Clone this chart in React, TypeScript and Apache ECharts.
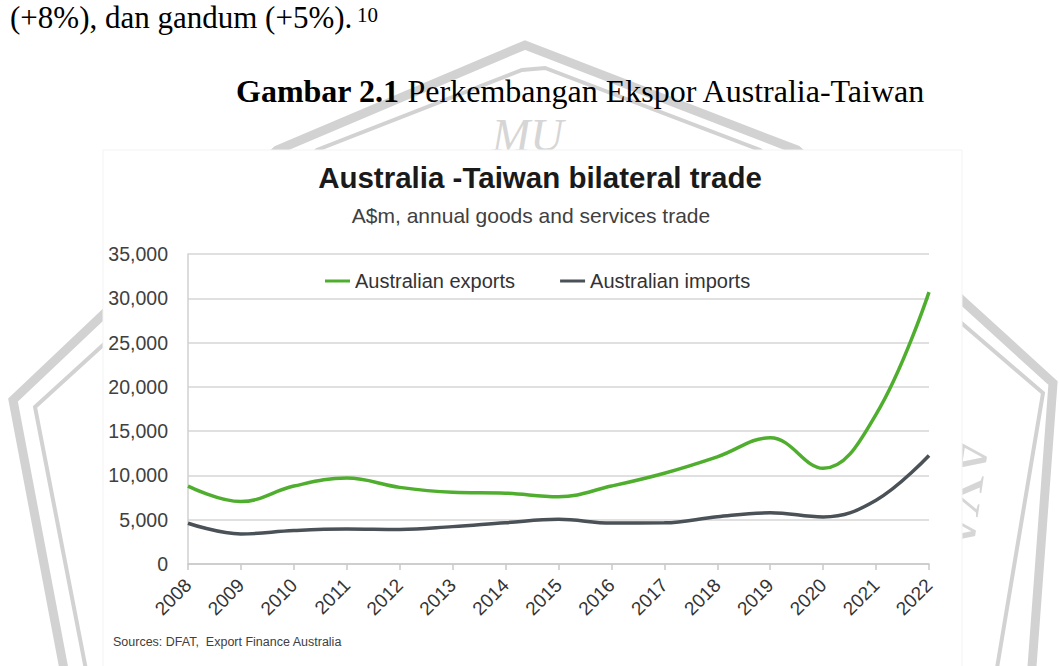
import React, { useEffect, useRef } from "react";
import * as echarts from "echarts";

const years = ["2008","2009","2010","2011","2012","2013","2014","2015","2016","2017","2018","2019","2020","2021","2022"];
const exportsData = [8800, 7050, 8800, 9700, 8650, 8100, 8000, 7600, 8800, 10250, 12100, 14250, 10800, 16900, 30700];
const importsData = [4600, 3400, 3780, 3950, 3900, 4220, 4660, 5040, 4620, 4650, 5340, 5780, 5320, 7200, 12250];
const yTicks = [0, 5000, 10000, 15000, 20000, 25000, 30000, 35000];

const docLine = "(+8%), dan gandum (+5%).";
const footnote = "10";
const figCaptionBold = "Gambar 2.1";
const figCaption = " Perkembangan Ekspor Australia-Taiwan";
const chartTitle = "Australia -Taiwan bilateral trade";
const chartSubtitle = "A$m, annual goods and services trade";
const sourceText = "Sources: DFAT,  Export Finance Australia";

const WM = "#d2d2d2";

export default function App() {
  const ref = useRef<HTMLDivElement>(null);
  useEffect(() => {
    if (!ref.current) return;
    const chart = echarts.init(ref.current, undefined, { renderer: "svg" });
    const fmt = (v: number) => v.toLocaleString("en-US");
    chart.setOption({
      animation: false,
      backgroundColor: "#ffffff",
      graphic: [
        // watermark (behind the chart picture)
        { type: "polyline", z: -30, shape: { points: [[66, 680], [13, 400], [277, 150], [525, 45], [797, 150], [1053, 383], [1031, 680]] }, style: { fill: null, stroke: WM, lineWidth: 9 } },
        { type: "polyline", z: -30, shape: { points: [[88, 680], [35, 407], [317, 150], [522, 70], [545, 68], [760, 150], [1043, 393], [995, 680]] }, style: { fill: null, stroke: WM, lineWidth: 4 } },
        { type: "text", z: -30, x: 492, y: 112, style: { text: "MU", font: "italic 46px 'Liberation Serif'", fill: "#d6d6d6" } },
        { type: "text", z: -30, x: 1000, y: 440, rotation: -Math.PI / 2 - 0.15, style: { text: "AYA", font: "60px 'Liberation Serif'", fill: "#d6d6d6" } },
        // chart picture
        { type: "rect", z: -20, shape: { x: 103, y: 150, width: 859, height: 520 }, style: { fill: "#ffffff", stroke: "#f3f3f3", lineWidth: 1 } },
        // document text
        { type: "text", z: 5, x: 10, y: 33, style: { text: docLine, font: "31px 'Liberation Serif'", fill: "#000", textVerticalAlign: "bottom" } },
        { type: "text", z: 5, x: 357, y: 4, style: { text: footnote, font: "21px 'Liberation Serif'", fill: "#000" } },
        {
          type: "text", z: 5, x: 236, y: 107,
          style: {
            text: "{b|" + figCaptionBold + "}" + figCaption,
            font: "32px 'Liberation Serif'",
            fill: "#000",
            textVerticalAlign: "bottom",
            rich: { b: { fontWeight: "bold", fontSize: 32, fontFamily: "Liberation Serif", fill: "#000" } },
          },
        },
        // chart texts
        { type: "text", z: 5, x: 540, y: 177, style: { text: chartTitle, font: "bold 29.5px 'Liberation Sans'", fill: "#1a1a1a", textAlign: "center", textVerticalAlign: "middle" } },
        { type: "text", z: 5, x: 531, y: 215, style: { text: chartSubtitle, font: "21px 'Liberation Sans'", fill: "#404040", textAlign: "center", textVerticalAlign: "middle" } },
        { type: "text", z: 5, x: 113, y: 642, style: { text: sourceText, font: "12.5px 'Liberation Sans'", fill: "#404040", textVerticalAlign: "middle" } },
      ],
      legend: {
        left: 320,
        top: 266,
        itemGap: 45,
        itemWidth: 25,
        itemHeight: 3,
        icon: "rect",
        textStyle: { fontFamily: "Liberation Sans", fontSize: 20, color: "#333" },
        data: ["Australian exports", "Australian imports"],
      },
      grid: { left: 188, right: 130, top: 254, bottom: 102, containLabel: false },
      xAxis: {
        type: "category",
        data: years,
        boundaryGap: false,
        axisLine: { lineStyle: { color: "#c8c8c8", width: 1.5 } },
        axisTick: { show: true, length: 6, lineStyle: { color: "#c8c8c8", width: 1.5 } },
        axisLabel: { rotate: 45, margin: 18, fontFamily: "Liberation Sans", fontSize: 19, color: "#333" },
        splitLine: { show: false },
      },
      yAxis: {
        type: "value",
        min: 0,
        max: 35000,
        interval: 5000,
        axisLine: { show: true, lineStyle: { color: "#d0d0d0", width: 1.5 } },
        axisTick: { show: false },
        axisLabel: { margin: 20, fontFamily: "Liberation Sans", fontSize: 19.5, color: "#404040", formatter: (v: number) => (yTicks.includes(v) ? fmt(v) : "") },
        splitLine: { lineStyle: { color: "#d6d6d6", width: 1.5 } },
      },
      series: [
        {
          name: "Australian exports",
          type: "line",
          data: exportsData,
          smooth: 0.4,
          symbol: "none",
          lineStyle: { color: "#4fae2e", width: 3.5 },
          itemStyle: { color: "#4fae2e" },
        },
        {
          name: "Australian imports",
          type: "line",
          data: importsData,
          smooth: 0.4,
          symbol: "none",
          lineStyle: { color: "#4a5157", width: 3.5 },
          itemStyle: { color: "#4a5157" },
        },
      ],
    });
    return () => chart.dispose();
  }, []);
  return <div ref={ref} style={{ position: "absolute", left: 0, top: 0, width: 1059, height: 666 }} />;
}
